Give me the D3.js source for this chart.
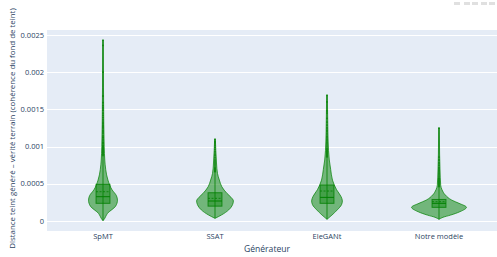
<!DOCTYPE html>
<html>
<head>
<meta charset="utf-8">
<script src="https://cdn.jsdelivr.net/npm/d3@7"></script>
<style>
  body { margin: 0; background: #fff; }
  svg { display: block; font-family: "Open Sans", verdana, arial, sans-serif; }
</style>
</head>
<body>
<div id="chart"></div>
<script>
const width = 497
const height = 257

const generators = ["SpMT", "SSAT", "EleGANt", "Notre modèle"]

// box statistics (same order as generators)
const q1s     = [0.000238, 0.000200, 0.000238, 0.000184]
const medians = [0.000327, 0.000269, 0.000318, 0.000238]
const means   = [0.000394, 0.000305, 0.000403, 0.000260]
const q3s     = [0.000493, 0.000380, 0.000484, 0.000290]
const lowerFences = [0.000005, 0.000036, 0.000023, 0.000023]
const upperFences = [0.000876, 0.000650, 0.000853, 0.000450]

// violin outlines: value (x1e-3) and relative density
const profileValues = [
  [0.005, 0.03, 0.1, 0.2, 0.28, 0.34, 0.42, 0.55, 0.69, 0.82, 1.0, 1.3, 1.8, 2.43],
  [0.036, 0.08, 0.15, 0.22, 0.27, 0.32, 0.37, 0.46, 0.55, 0.64, 0.78, 0.95, 1.10],
  [0.023, 0.08, 0.15, 0.22, 0.27, 0.33, 0.42, 0.55, 0.69, 0.82, 0.95, 1.2, 1.45, 1.69],
  [0.023, 0.05, 0.08, 0.125, 0.184, 0.238, 0.28, 0.35, 0.42, 0.48, 0.7, 0.9, 1.25]
]
const profileDensity = [
  [0, 0.055, 0.156, 0.46, 0.527, 0.49, 0.33, 0.18, 0.10, 0.065, 0.044, 0.029, 0.018, 0.012],
  [0, 0.23, 0.50, 0.64, 0.67, 0.58, 0.44, 0.25, 0.16, 0.09, 0.055, 0.03, 0.012],
  [0, 0.18, 0.375, 0.53, 0.56, 0.51, 0.35, 0.20, 0.135, 0.084, 0.055, 0.033, 0.022, 0.012],
  [0, 0.145, 0.425, 0.76, 1.0, 0.73, 0.47, 0.23, 0.11, 0.062, 0.036, 0.022, 0.012]
]

// outlier points (x1e-3)
const outliers = [
  [0.88, 0.89, 0.90, 0.91, 0.92, 0.93, 0.94, 0.95, 0.96, 0.97, 0.98, 0.99, 1.00, 1.01, 1.02, 1.04,
   1.05, 1.06, 1.08, 1.10, 1.12, 1.13, 1.15, 1.18, 1.20, 1.22, 1.25, 1.27, 1.29, 1.31, 1.33, 1.36,
   1.39, 1.42, 1.45, 1.49, 1.52, 1.55, 1.59, 1.68, 2.00, 2.36, 2.43],
  [0.66, 0.67, 0.68, 0.69, 0.70, 0.71, 0.72, 0.74, 0.76, 0.78, 0.80, 0.82, 0.85, 0.88, 0.90, 0.93,
   0.96, 0.99, 1.02, 1.05, 1.07, 1.10],
  [0.86, 0.87, 0.88, 0.89, 0.90, 0.91, 0.92, 0.93, 0.94, 0.95, 0.96, 0.97, 0.98, 1.00, 1.02, 1.04,
   1.06, 1.08, 1.10, 1.12, 1.14, 1.17, 1.20, 1.22, 1.25, 1.29, 1.33, 1.38, 1.45, 1.48, 1.60, 1.69],
  [0.46, 0.47, 0.48, 0.49, 0.50, 0.51, 0.52, 0.53, 0.54, 0.55, 0.56, 0.57, 0.58, 0.60, 0.62, 0.64,
   0.66, 0.68, 0.70, 0.72, 0.75, 0.78, 0.82, 0.86, 1.25]
]

const yTicks = [0, 0.0005, 0.001, 0.0015, 0.002, 0.0025]

const color = "green"
const textColor = "#2a3f5f"
const plot = {left: 47, top: 30, right: 497, bottom: 231}

const svg = d3.select("#chart")
  .append("svg")
  .attr("width", width)
  .attr("height", height)

svg.append("rect")
  .attr("x", plot.left)
  .attr("y", plot.top)
  .attr("width", plot.right - plot.left)
  .attr("height", plot.bottom - plot.top)
  .attr("fill", "#E5ECF6")

const x = d3.scaleBand()
  .domain(generators)
  .range([plot.left, 495])
  .padding(0)

const y = d3.scaleLinear()
  .domain([-0.000134, 0.002567])
  .range([plot.bottom, plot.top])

const w = d3.scaleLinear()
  .domain([0, 1])
  .range([0, x.bandwidth() * 0.245])

// grid
svg.append("g")
  .selectAll("line")
  .data(yTicks)
  .join("line")
    .attr("x1", plot.left)
    .attr("x2", plot.right)
    .attr("y1", d => Math.round(y(d)) + 0.5)
    .attr("y2", d => Math.round(y(d)) + 0.5)
    .attr("stroke", "#fff")
    .attr("stroke-width", 1)

// y tick labels
const fmt = d => d === 0 ? "0" : String(+d.toFixed(4))
svg.append("g")
  .selectAll("text")
  .data(yTicks)
  .join("text")
    .attr("x", 44)
    .attr("y", d => y(d))
    .attr("dy", "0.35em")
    .attr("text-anchor", "end")
    .attr("font-size", 7.5)
    .attr("fill", textColor)
    .text(fmt)

// x tick labels
svg.append("g")
  .selectAll("text")
  .data(generators)
  .join("text")
    .attr("x", d => x(d) + x.bandwidth() / 2)
    .attr("y", 238.5)
    .attr("text-anchor", "middle")
    .attr("font-size", 7.5)
    .attr("fill", textColor)
    .text(d => d)

// axis titles
svg.append("text")
  .attr("x", 267)
  .attr("y", 252)
  .attr("text-anchor", "middle")
  .attr("font-size", 8.6)
  .attr("fill", textColor)
  .text("Générateur")

svg.append("text")
  .attr("transform", `translate(15,${128.5}) rotate(-90)`)
  .attr("text-anchor", "middle")
  .attr("font-size", 7.9)
  .attr("fill", textColor)
  .text("Distance teint généré – vérité terrain (cohérence du fond de teint)")

// violins
const area = d3.area()
  .curve(d3.curveMonotoneY)

generators.forEach((g, i) => {
  const cx = x(g) + x.bandwidth() / 2
  const pts = profileValues[i].map((v, j) => ({v: v / 1000, d: profileDensity[i][j]}))
  const grp = svg.append("g")

  area
    .y(d => y(d.v))
    .x0(d => cx - w(d.d))
    .x1(d => cx + w(d.d))

  grp.append("path")
    .attr("d", area(pts))
    .attr("fill", color)
    .attr("fill-opacity", 0.5)
    .attr("stroke", color)
    .attr("stroke-width", 1)
    .attr("stroke-opacity", 0.7)

  // whisker line
  grp.append("line")
    .attr("x1", cx).attr("x2", cx)
    .attr("y1", y(lowerFences[i]))
    .attr("y2", y(upperFences[i]))
    .attr("stroke", color)
    .attr("stroke-width", 1)
    .attr("stroke-opacity", 0.8)

  const bw = x.bandwidth() * 0.062
  grp.append("rect")
    .attr("x", cx - bw)
    .attr("width", bw * 2)
    .attr("y", y(q3s[i]))
    .attr("height", y(q1s[i]) - y(q3s[i]))
    .attr("fill", color)
    .attr("fill-opacity", 0.4)
    .attr("stroke", color)
    .attr("stroke-width", 1)
    .attr("stroke-opacity", 0.8)

  grp.append("line")
    .attr("x1", cx - bw).attr("x2", cx + bw)
    .attr("y1", y(medians[i])).attr("y2", y(medians[i]))
    .attr("stroke", color)
    .attr("stroke-width", 1)

  grp.append("line")
    .attr("x1", cx - bw).attr("x2", cx + bw)
    .attr("y1", y(means[i])).attr("y2", y(means[i]))
    .attr("stroke", color)
    .attr("stroke-width", 0.8)
    .attr("stroke-dasharray", "2,1.5")

  // outliers
  grp.append("line")
    .attr("x1", cx).attr("x2", cx)
    .attr("y1", y(upperFences[i]))
    .attr("y2", y(d3.max(outliers[i]) / 1000))
    .attr("stroke", color)
    .attr("stroke-width", 1)
    .attr("stroke-opacity", 0.5)

  grp.selectAll("circle")
    .data(outliers[i])
    .join("circle")
      .attr("cx", cx)
      .attr("cy", d => y(d / 1000))
      .attr("r", 0.9)
      .attr("fill", color)
      .attr("fill-opacity", 0.7)
})

// modebar hint
const modebar = [454, 464, 472, 481, 489]
svg.append("g")
  .selectAll("rect")
  .data(modebar)
  .join("rect")
    .attr("x", d => d)
    .attr("y", 2)
    .attr("width", 6)
    .attr("height", 3)
    .attr("fill", "#e0e0e0")
</script>
</body>
</html>
